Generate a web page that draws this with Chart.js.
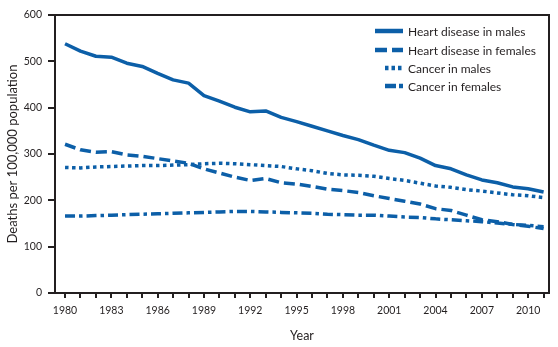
<!DOCTYPE html>
<html>
<head>
<meta charset="utf-8">
<script src="https://cdn.jsdelivr.net/npm/chart.js@4.4.1/dist/chart.umd.min.js"></script>
<style>
  html, body { margin: 0; padding: 0; background: #fff; }
  #wrap { width: 558px; height: 347px; }
</style>
</head>
<body>
<div id="wrap"><canvas id="deathsChart" width="558" height="347"></canvas></div>
<script>
const years = [];
for (let y = 1980; y <= 2011; y++) years.push(y);

const seriesNames = ['Heart disease in males', 'Heart disease in females', 'Cancer in males', 'Cancer in females'];

const heartMales = [538, 522, 511, 509, 496, 489, 474, 460, 453, 426, 414, 401, 391, 393, 379, 370, 360, 350, 340, 331, 319, 308, 303, 291, 275, 268, 255, 244, 238, 229, 225, 218];
const heartFemales = [321, 309, 304, 305, 298, 295, 290, 285, 280, 268, 259, 250, 243, 247, 238, 235, 230, 224, 221, 217, 210, 204, 198, 192, 182, 178, 168, 158, 154, 148, 144, 139];
const cancerMales = [271, 270, 272, 273, 274, 275, 275, 276, 277, 279, 280, 279, 277, 275, 273, 268, 264, 258, 255, 254, 252, 247, 243, 237, 231, 228, 223, 220, 216, 212, 210, 206];
const cancerFemales = [166, 166, 167, 168, 169, 170, 171, 172, 173, 174, 175, 176, 176, 175, 174, 173, 172, 170, 169, 168, 168, 166, 164, 163, 160, 158, 156, 154, 151, 148, 146, 143];

const blue = '#0c5fa8';
const ink = '#231f20';
const font = 'Lato, "Open Sans", sans-serif';

const dashes = [[], [11, 5], [3.5, 3.5], [10, 4, 3.5, 4]];
const allData = [heartMales, heartFemales, cancerMales, cancerFemales];

const datasets = allData.map((vals, i) => ({
  label: seriesNames[i],
  data: vals.map((v, j) => ({ x: years[j], y: v })),
  borderColor: blue,
  borderWidth: 3.5,
  borderDash: dashes[i],
  borderCapStyle: 'butt',
  borderJoinStyle: 'round',
  pointRadius: 0,
  tension: 0,
  fill: false
}));

// frame on top/right of the plot, plus the key in the upper right
const framePlugin = {
  id: 'frameAndKey',
  afterDraw(chart) {
    const { ctx, chartArea: a } = chart;
    ctx.save();
    ctx.strokeStyle = ink;
    ctx.lineWidth = 2;
    ctx.beginPath();
    ctx.moveTo(a.left, a.top);
    ctx.lineTo(a.right, a.top);
    ctx.lineTo(a.right, a.bottom);
    ctx.stroke();

    const rowsY = [31, 50, 68, 86];
    const sampleLen = [28, 28, 18, 18];
    const lineEnd = 403;
    ctx.font = '12px ' + font;
    ctx.textBaseline = 'middle';
    for (let i = 0; i < seriesNames.length; i++) {
      ctx.strokeStyle = blue;
      ctx.lineWidth = 4.5;
      ctx.lineCap = 'butt';
      ctx.setLineDash(i === 1 ? [12, 5] : i === 2 ? [3.5, 3] : i === 3 ? [11, 3, 4, 3] : []);
      ctx.beginPath();
      ctx.moveTo(lineEnd - sampleLen[i], rowsY[i]);
      ctx.lineTo(lineEnd, rowsY[i]);
      ctx.stroke();
      ctx.setLineDash([]);
      ctx.fillStyle = ink;
      ctx.fillText(seriesNames[i], 408, rowsY[i] + 1);
    }
    ctx.restore();
  }
};

new Chart(document.getElementById('deathsChart'), {
  type: 'line',
  data: { datasets },
  plugins: [framePlugin],
  options: {
    responsive: false,
    animation: false,
    layout: { padding: { top: 15, right: 9, left: 0, bottom: 0 } },
    plugins: {
      legend: { display: false },
      tooltip: { enabled: false }
    },
    scales: {
      x: {
        type: 'linear',
        min: 1979.35,
        max: 2011.35,
        afterBuildTicks: (scale) => { scale.ticks = years.map(v => ({ value: v })); },
        afterFit: (scale) => { scale.height = 54; },
        border: { color: ink, width: 2 },
        grid: { drawOnChartArea: false, drawTicks: true, tickLength: 5, color: ink, lineWidth: 2 },
        ticks: {
          autoSkip: false,
          maxRotation: 0,
          padding: 6,
          color: ink,
          font: { family: font, size: 10.5 },
          callback: (v) => ((v - 1980) % 3 === 0 ? String(v) : '')
        },
        title: {
          display: true,
          text: 'Year',
          color: ink,
          font: { family: font, size: 12.5 },
          padding: { top: 4, bottom: 4 }
        }
      },
      y: {
        min: 0,
        max: 600,
        afterFit: (scale) => { scale.width = 55; },
        border: { color: ink, width: 2 },
        grid: { drawOnChartArea: false, drawTicks: true, tickLength: 7, color: ink, lineWidth: 2 },
        ticks: {
          stepSize: 100,
          padding: 6,
          color: ink,
          font: { family: font, size: 10.5 }
        },
        title: {
          display: true,
          text: 'Deaths per 100,000 population',
          color: ink,
          font: { family: font, size: 13 },
          padding: { top: 5, bottom: 0 }
        }
      }
    }
  }
});
</script>
</body>
</html>
